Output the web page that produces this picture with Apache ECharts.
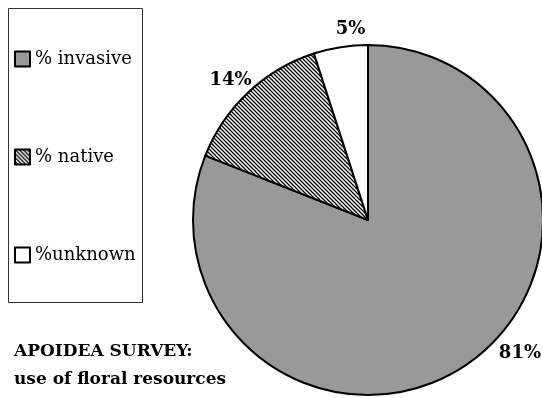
<!DOCTYPE html>
<html>
<head>
<meta charset="utf-8">
<script src="https://cdn.jsdelivr.net/npm/echarts@6/dist/echarts.min.js"></script>
<style>
  html, body { margin: 0; padding: 0; background: #fff; }
  #chart { width: 542px; height: 398px; }
</style>
</head>
<body>
<div id="chart"></div>
<script>
  // data
  const categories = ['% invasive', '% native', '%unknown']
  const values = [81, 14, 5]
  const titleLines = ['APOIDEA SURVEY:', 'use of floral resources']

  // diagonal hatch for the "native" slice
  function makeHatch () {
    const c = document.createElement('canvas')
    c.width = 4
    c.height = 4
    const ctx = c.getContext('2d')
    ctx.fillStyle = '#fff'
    ctx.fillRect(0, 0, 4, 4)
    ctx.strokeStyle = '#000'
    ctx.lineWidth = 1.3
    ctx.beginPath()
    ctx.moveTo(-1, -1); ctx.lineTo(5, 5)
    ctx.moveTo(-1, 3); ctx.lineTo(1, 5)
    ctx.moveTo(3, -1); ctx.lineTo(5, 1)
    ctx.stroke()
    return c
  }

  const fills = ['#999999', { image: makeHatch(), repeat: 'repeat' }, '#ffffff']
  // nudge the outside labels to where the original puts them
  const labelNudge = [[23, -18], [14, -6], [31, -10]]
  const serif = '"DejaVu Serif", "Liberation Serif", serif'

  const chart = echarts.init(document.getElementById('chart'))
  chart.setOption({
    animation: false,
    title: {
      text: titleLines.join('\n'),
      left: 9,
      top: 333,
      textStyle: { fontFamily: serif, fontSize: 17, fontWeight: 'bold', color: '#000', lineHeight: 28 }
    },
    legend: {
      orient: 'vertical',
      left: 9,
      top: 45,
      itemGap: 80,
      itemWidth: 15,
      itemHeight: 15,
      icon: 'rect',
      data: categories,
      textStyle: { fontFamily: serif, fontSize: 18, color: '#000' }
    },
    graphic: [{
      type: 'rect',
      shape: { x: 8.5, y: 8.5, width: 134, height: 294 },
      style: { fill: 'none', stroke: '#333', lineWidth: 1 },
      silent: true
    }],
    series: [{
      type: 'pie',
      center: [368, 220],
      radius: 175,
      startAngle: 90,
      clockwise: true,
      silent: true,
      emphasis: { disabled: true },
      itemStyle: { borderColor: '#000', borderWidth: 2 },
      label: {
        show: true,
        position: 'outside',
        formatter: '{c}%',
        fontFamily: serif,
        fontSize: 18,
        fontWeight: 'bold',
        color: '#000'
      },
      labelLine: { show: false, length: 8, length2: 0 },
      data: categories.map((name, i) => ({
        name: name,
        value: values[i],
        itemStyle: { color: fills[i] },
        label: { offset: labelNudge[i] }
      }))
    }]
  })
</script>
</body>
</html>
